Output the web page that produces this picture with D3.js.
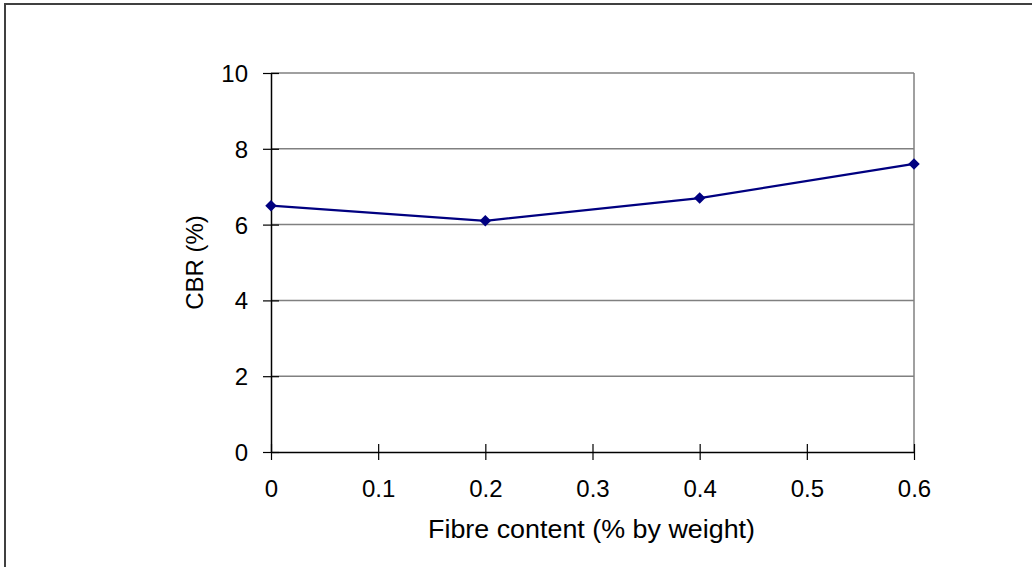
<!DOCTYPE html>
<html>
<head>
<meta charset="utf-8">
<script src="https://cdn.jsdelivr.net/npm/d3@7"></script>
<style>
  html, body { margin: 0; padding: 0; background: #fff; }
  svg { display: block; }
  text { font-family: "Liberation Sans", Arial, sans-serif; fill: #000; }
</style>
</head>
<body>
<svg id="chart" width="1032" height="567"></svg>
<script>
// CBR against fibre content
const fibreContent = [0, 0.2, 0.4, 0.6];
const cbrValues = [6.5, 6.1, 6.7, 7.6];
const xTicks = [0, 0.1, 0.2, 0.3, 0.4, 0.5, 0.6];
const yTicks = [0, 2, 4, 6, 8, 10];
const xTitle = "Fibre content (% by weight)";
const yTitle = "CBR (%)";

const svg = d3.select("#chart");
const W = 1032, H = 567;
const plot = { left: 271, right: 914, top: 73, bottom: 452 };

// outer chart frame (runs past the right and bottom edges)
svg.append("rect")
  .attr("x", 5).attr("y", 4)
  .attr("width", W + 20).attr("height", H + 20)
  .attr("fill", "#fff")
  .attr("stroke", "#404040")
  .attr("stroke-width", 2);

const x = d3.scaleLinear().domain([0, 0.6]).range([plot.left, plot.right]);
const y = d3.scaleLinear().domain([0, 10]).range([plot.bottom, plot.top]);

// horizontal gridlines
svg.append("g")
  .selectAll("line")
  .data(yTicks.filter(d => d > 0))
  .join("line")
  .attr("x1", plot.left).attr("x2", plot.right)
  .attr("y1", d => y(d)).attr("y2", d => y(d))
  .attr("stroke", "#808080")
  .attr("stroke-width", 1.5);

// right border of the plot area
svg.append("line")
  .attr("x1", plot.right).attr("x2", plot.right)
  .attr("y1", plot.top).attr("y2", plot.bottom)
  .attr("stroke", "#808080")
  .attr("stroke-width", 1.5);

// y axis
const yAxis = svg.append("g")
  .attr("transform", `translate(${plot.left},0)`)
  .call(d3.axisLeft(y).tickValues(yTicks).tickFormat(d3.format("d"))
    .tickSizeInner(8).tickSizeOuter(0).tickPadding(15));
yAxis.select(".domain").attr("stroke", "#000").attr("stroke-width", 1.5);
yAxis.selectAll(".tick line").attr("stroke", "#000").attr("stroke-width", 1.2)
  .attr("x1", 8);
yAxis.selectAll(".tick text")
  .style("font-size", "24px")
  .attr("dy", "0.35em");

// x axis
const xAxis = svg.append("g")
  .attr("transform", `translate(0,${plot.bottom})`)
  .call(d3.axisBottom(x).tickValues(xTicks).tickFormat(d => d === 0 ? "0" : d3.format(".1f")(d))
    .tickSizeInner(8).tickSizeOuter(0).tickPadding(0));
xAxis.select(".domain").attr("stroke", "#000").attr("stroke-width", 1.5);
xAxis.selectAll(".tick line").attr("stroke", "#000").attr("stroke-width", 1.2)
  .attr("y1", -8);
xAxis.selectAll(".tick text")
  .style("font-size", "24px")
  .attr("y", 45).attr("dy", null);

// axis titles
svg.append("text")
  .attr("x", 591.5)
  .attr("y", 538)
  .attr("text-anchor", "middle")
  .attr("textLength", 327)
  .attr("lengthAdjust", "spacingAndGlyphs")
  .style("font-size", "25px")
  .text(xTitle);

svg.append("text")
  .attr("transform", `translate(203,${(plot.top + plot.bottom) / 2}) rotate(-90)`)
  .attr("text-anchor", "middle")
  .style("font-size", "24px")
  .text(yTitle);

// data line
const pts = fibreContent.map((f, i) => [f, cbrValues[i]]);
svg.append("path")
  .datum(pts)
  .attr("fill", "none")
  .attr("stroke", "#000080")
  .attr("stroke-width", 2.2)
  .attr("d", d3.line().x(d => x(d[0])).y(d => y(d[1])));

// diamond markers
svg.append("g")
  .selectAll("path")
  .data(pts)
  .join("path")
  .attr("transform", d => `translate(${x(d[0])},${y(d[1])})`)
  .attr("d", d3.symbol(d3.symbolDiamond2, 85))
  .attr("fill", "#000080");
</script>
</body>
</html>
